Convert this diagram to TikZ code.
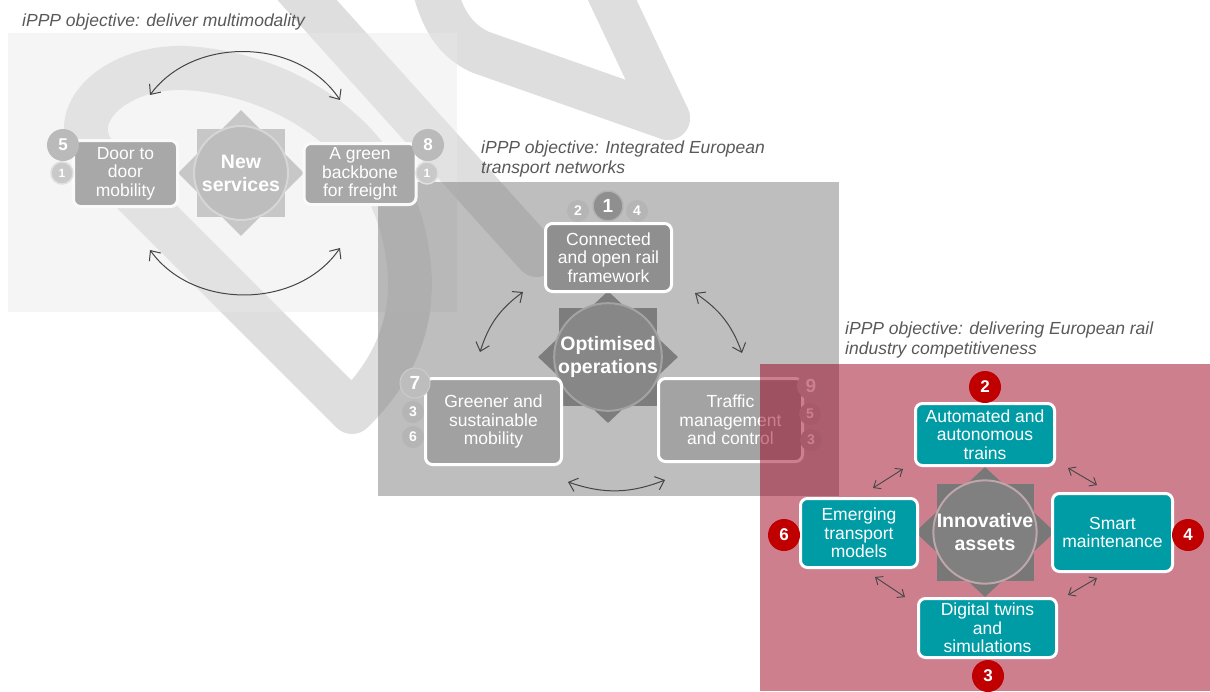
\documentclass[tikz,border=0pt]{standalone}
\usepackage{fontspec}
\setmainfont{Liberation Sans}
\usetikzlibrary{shapes.geometric,arrows.meta}
\definecolor{wmgray}{HTML}{DEDEDE}
\definecolor{titlegray}{HTML}{595959}
\definecolor{arrowgray}{HTML}{454545}
\definecolor{assetteal}{HTML}{009CA6}
\definecolor{badgered}{HTML}{C00000}
\definecolor{panelrose}{RGB}{155,0,30}
\begin{document}
\begin{tikzpicture}[x=1pt,y=-1pt]
	\tikzset{wm/.style = {line width=44pt, wmgray, line cap=round, line join=round}}
	\tikzset{box/.style = {rounded corners=7pt, draw=white, line width=3pt, text=white, align=center, inner sep=0pt, font=\fontsize{17.5}{18.5}\selectfont}}
	\tikzset{hub/.style = {circle, inner sep=0pt, minimum size=#1, line width=2pt, text=white, align=center, font=\bfseries\fontsize{19.5}{23}\selectfont}}
	\tikzset{raysq/.style = {rectangle, inner sep=0pt, minimum size=#1}}
	\tikzset{raydm/.style = {diamond, inner sep=0pt, minimum width=140, minimum height=#1}}
	\tikzset{badge/.style = {circle, inner sep=0pt, minimum size=#1, text=white, font=\bfseries\fontsize{17}{17}\selectfont}}
	\tikzset{minibadge/.style = {circle, inner sep=0pt, minimum size=22, text=white, font=\bfseries\fontsize{14}{14}\selectfont}}
	\tikzset{link/.style = {{Straight Barb[length=8pt,width=14pt]}-{Straight Barb[length=8pt,width=14pt]}, arrowgray, line width=1pt}}
	\tikzset{shortlink/.style = {{Straight Barb[length=6pt,width=10pt]}-{Straight Barb[length=6pt,width=10pt]}, arrowgray, line width=0.9pt}}
	\tikzset{objective/.style = {anchor=base west, align=left, text=titlegray, inner sep=0pt, font=\itshape\fontsize{17.5}{20}\selectfont}}
	\useasboundingbox (0,0) rectangle (1210,691);

	\draw[wm] (352,412) -- (100,160) .. controls (60,120) and (110,66) .. (185,68) .. controls (290,74) and (385,140) .. (405,240) .. controls (420,310) and (400,365) .. (352,412);
	\draw[wm] (280,-30) -- (537,255);
	\draw[wm] (430,-30) .. controls (440,20) and (455,40) .. (480,52) -- (668,118);
	\draw[wm] (598,-30) -- (668,118);

	\fill[black!9, opacity=.45] (8,33) rectangle (457,312);
	\fill[black!49, opacity=.52] (378,182) rectangle (839,496);

	\node[raysq=88, fill=black!22] (nsq) at (241,173) {};
	\node[diamond, inner sep=0pt, minimum width=126, minimum height=126, fill=black!22] (ndm) at (241,173) {};
	\node[hub=94, fill=black!26, draw=black!16] (newserv) at (241,173) {New\\services};
	\node[box, fill=black!34, draw=black!2, minimum width=104, minimum height=66] (door) at (125.5,173.5) {Door to\\door\\mobility};
	\node[box, fill=black!34, draw=black!2, minimum width=112, minimum height=61] (freight) at (360,174) {A green\\backbone\\for freight};
	\node[badge=32, fill=black!27] (b5) at (63,145) {5};
	\node[minibadge, fill=black!21, draw=black!13, line width=1.5pt, font=\bfseries\fontsize{12}{12}\selectfont] (b5one) at (62,173) {1};
	\node[badge=32, fill=black!27] (b8) at (428,145) {8};
	\node[minibadge, fill=black!21, draw=black!13, line width=1.5pt, font=\bfseries\fontsize{12}{12}\selectfont] (b8one) at (427,173) {1};
	\coordinate (tl) at (150,95);
	\coordinate (tr) at (340,100);
	\coordinate (bl) at (150,250);
	\coordinate (br) at (340,248);
	\path[link] (tl) edge[bend left=55] (tr);
	\path[link] (bl) edge[bend right=55] (br);

	\node[raysq=98, fill=black!51] (osq) at (608,357) {};
	\node[raydm=132, fill=black!51] (odm) at (608,357) {};
	\node[hub=104, fill=black!47, draw=black!36] (optim) at (608,357) {Optimised\\operations};
	\node[box, fill=black!44, minimum width=126, minimum height=68] (rail) at (608.5,257.5) {Connected\\and open rail\\framework};
	\node[box, fill=black!37, minimum width=136, minimum height=86] (greener) at (493.5,421.5) {Greener and\\sustainable\\mobility};
	\node[box, fill=black!36, minimum width=144, minimum height=83] (traffic) at (730.5,420) {Traffic\\management\\and control};
	\node[minibadge, fill=black!29] (r2) at (578,211) {2};
	\node[minibadge, fill=black!29] (r4) at (637,211) {4};
	\node[badge=30, fill=black!44, draw=black!30, line width=1.5pt, font=\bfseries\fontsize{19}{19}\selectfont] (r1) at (608,206) {1};
	\node[badge=30, fill=black!26, draw=black!20, line width=1pt, font=\bfseries\fontsize{19}{19}\selectfont] (g7) at (415,383) {7};
	\node[minibadge, fill=black!29] (g3) at (413,412) {3};
	\node[minibadge, fill=black!29] (g6) at (413,437) {6};
	\node[badge=28, fill=black!26, font=\bfseries\fontsize{19}{19}\selectfont] (t9) at (811,386) {9};
	\node[minibadge, fill=black!29] (t5) at (810,414) {5};
	\node[minibadge, fill=black!29] (t3) at (811,440) {3};
	\coordinate (ola) at (523,292);
	\coordinate (olb) at (480,352);
	\coordinate (ora) at (695,293);
	\coordinate (orb) at (742,353);
	\coordinate (oba) at (568,482);
	\coordinate (obb) at (665,480);
	\path[link] (ola) edge[bend right=18] (olb);
	\path[link] (ora) edge[bend left=18] (orb);
	\path[link] (oba) edge[bend right=20] (obb);

	\fill[panelrose, opacity=.5] (760,364) rectangle (1210,691);

	\node[raysq=97, fill=black!53] (isq) at (985,532) {};
	\node[raydm=130, fill=black!53] (idm) at (985,532) {};
	\node[hub=102, fill=black!50, draw=panelrose!45!black!35] (innov) at (985,532) {Innovative\\assets};
	\node[box, fill=assetteal, minimum width=139, minimum height=62] (autonomy) at (985,434.5) {Automated and\\autonomous\\trains};
	\node[box, fill=assetteal, minimum width=117, minimum height=69] (emerging) at (859,533) {Emerging\\transport\\models};
	\node[box, fill=assetteal, minimum width=120, minimum height=78] (smart) at (1112.5,532.5) {Smart\\maintenance};
	\node[box, fill=assetteal, minimum width=138, minimum height=59] (twins) at (987.5,628) {Digital twins\\and\\simulations};
	\node[badge=32, fill=badgered] (a2) at (985,387) {2};
	\node[badge=32, fill=badgered] (e6) at (784,535) {6};
	\node[badge=32, fill=badgered] (s4) at (1188,535) {4};
	\node[badge=32, fill=badgered] (d3) at (988,676) {3};
	\coordinate (ia) at (873,488);
	\coordinate (ib) at (903,469);
	\coordinate (ic) at (1068,468);
	\coordinate (id) at (1097,485);
	\coordinate (ie) at (875,577);
	\coordinate (if) at (905,597);
	\coordinate (ig) at (1068,595);
	\coordinate (ih) at (1097,578);
	\draw[shortlink] (ia) -- (ib);
	\draw[shortlink] (ic) -- (id);
	\draw[shortlink] (ie) -- (if);
	\draw[shortlink] (ig) -- (ih);

	\node[objective] (obj1) at (22,26) {iPPP objective: deliver multimodality};
	\node[objective] (obj2) at (481,173) {iPPP objective: Integrated European\\transport networks};
	\node[objective] (obj3) at (845,354) {iPPP objective: delivering European rail\\industry competitiveness};
\end{tikzpicture}
\end{document}
